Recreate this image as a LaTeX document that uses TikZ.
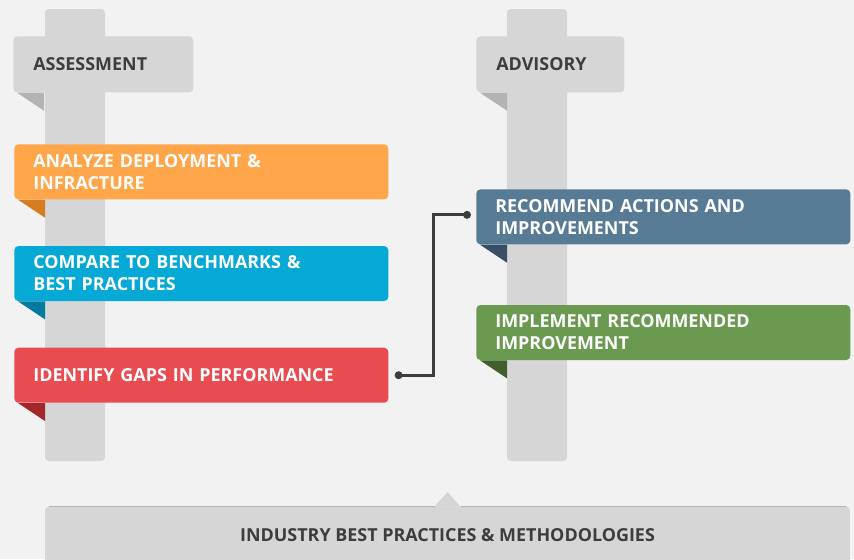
\documentclass[tikz,border=0pt]{standalone}
\usepackage{fontspec}
\newfontfamily\cardfont{Open Sans}
\usetikzlibrary{positioning, calc}
\definecolor{bgGray}{HTML}{F2F2F2}
\definecolor{poleGray}{HTML}{D6D6D6}
\definecolor{tabGray}{HTML}{B3B3B3}
\definecolor{darkText}{HTML}{3D3D3D}
\definecolor{orangeCard}{HTML}{FFA54A}
\definecolor{orangeTab}{HTML}{D67C21}
\definecolor{blueCard}{HTML}{06A9D6}
\definecolor{blueTab}{HTML}{037BA0}
\definecolor{redCard}{HTML}{E84C51}
\definecolor{redTab}{HTML}{A2272B}
\definecolor{steelCard}{HTML}{587B95}
\definecolor{steelTab}{HTML}{384F66}
\definecolor{greenCard}{HTML}{6A9A4F}
\definecolor{greenTab}{HTML}{415F2D}
\newcommand{\foldtab}[2]{\fill[#2] ($(#1.south west)+(4,0)$) -- ++(27,0) -- ++(0,18) -- cycle;}

\begin{document}
\begin{tikzpicture}[x=0.02cm, y=-0.02cm,
    font=\cardfont\bfseries\fontsize{10.2}{12.5}\selectfont,
    pole/.style={fill=poleGray, rounded corners=0.08cm},
    head/.style={fill=poleGray, rounded corners=0.08cm, anchor=north west, minimum height=1.12cm,
      inner xsep=0.4cm, align=left, text=darkText},
    card/.style={rounded corners=0.08cm, anchor=north west, minimum height=1.1cm,
      text width=6.72cm, inner xsep=0.38cm, align=left, text=white},
    link/.style={draw=darkText, line width=0.06cm}]
    \useasboundingbox (0,0) rectangle (854,559);
    \fill[bgGray] (0,0) rectangle (854,559);
    % poles
    \fill[pole] (45,9) rectangle (105,461);
    \fill[pole] (507,9) rectangle (567,461);
    % headers
    \node[head, text width=2.8cm] (assess) at (13,36) {ASSESSMENT};
    \node[head, text width=2.16cm] (advise) at (476,36) {ADVISORY};
    \foldtab{assess}{tabGray}
    \foldtab{advise}{tabGray}
    % assessment steps
    \node[card, fill=orangeCard] (analyze) at (14,144) {ANALYZE DEPLOYMENT \&\\INFRACTURE};
    \node[card, fill=blueCard, below=0.92cm of analyze.south west, anchor=north west] (compare) {COMPARE TO BENCHMARKS \&\\BEST PRACTICES};
    \node[card, fill=redCard, below=0.92cm of compare.south west, anchor=north west] (gaps) {IDENTIFY GAPS IN PERFORMANCE};
    \foldtab{analyze}{orangeTab}
    \foldtab{compare}{blueTab}
    \foldtab{gaps}{redTab}
    % advisory steps
    \node[card, fill=steelCard] (recommend) at (476,189) {RECOMMEND ACTIONS AND\\IMPROVEMENTS};
    \node[card, fill=greenCard, below=1.2cm of recommend.south west, anchor=north west] (implement) {IMPLEMENT RECOMMENDED\\IMPROVEMENT};
    \foldtab{recommend}{steelTab}
    \foldtab{implement}{greenTab}
    % link
    \coordinate (gapsdot) at ($(gaps.east)+(10,0)$);
    \coordinate (recdot) at ($(recommend.west)+(-9,-2)$);
    \draw[link] (gapsdot) -- ++(35,0) |- (recdot);
    \fill[darkText] (gapsdot) circle (0.08cm) (recdot) circle (0.08cm);
    % base
    \node[fill=poleGray, rounded corners=0.08cm, anchor=north, minimum width=16.1cm,
      minimum height=1.16cm, text=darkText] (industry) at (447.5,506) {INDUSTRY BEST PRACTICES \& METHODOLOGIES};
    \fill[poleGray] ($(industry.north)+(-13,0.5)$) -- ++(13,-14.5) -- ++(13,14.5) -- cycle;
    \draw[tabGray, line width=0.02cm] ($(industry.north west)+(4,0)$) -- ($(industry.north)+(-13,0)$)
      ($(industry.north)+(13,0)$) -- ($(industry.north east)+(-4,0)$);
\end{tikzpicture}
\end{document}
